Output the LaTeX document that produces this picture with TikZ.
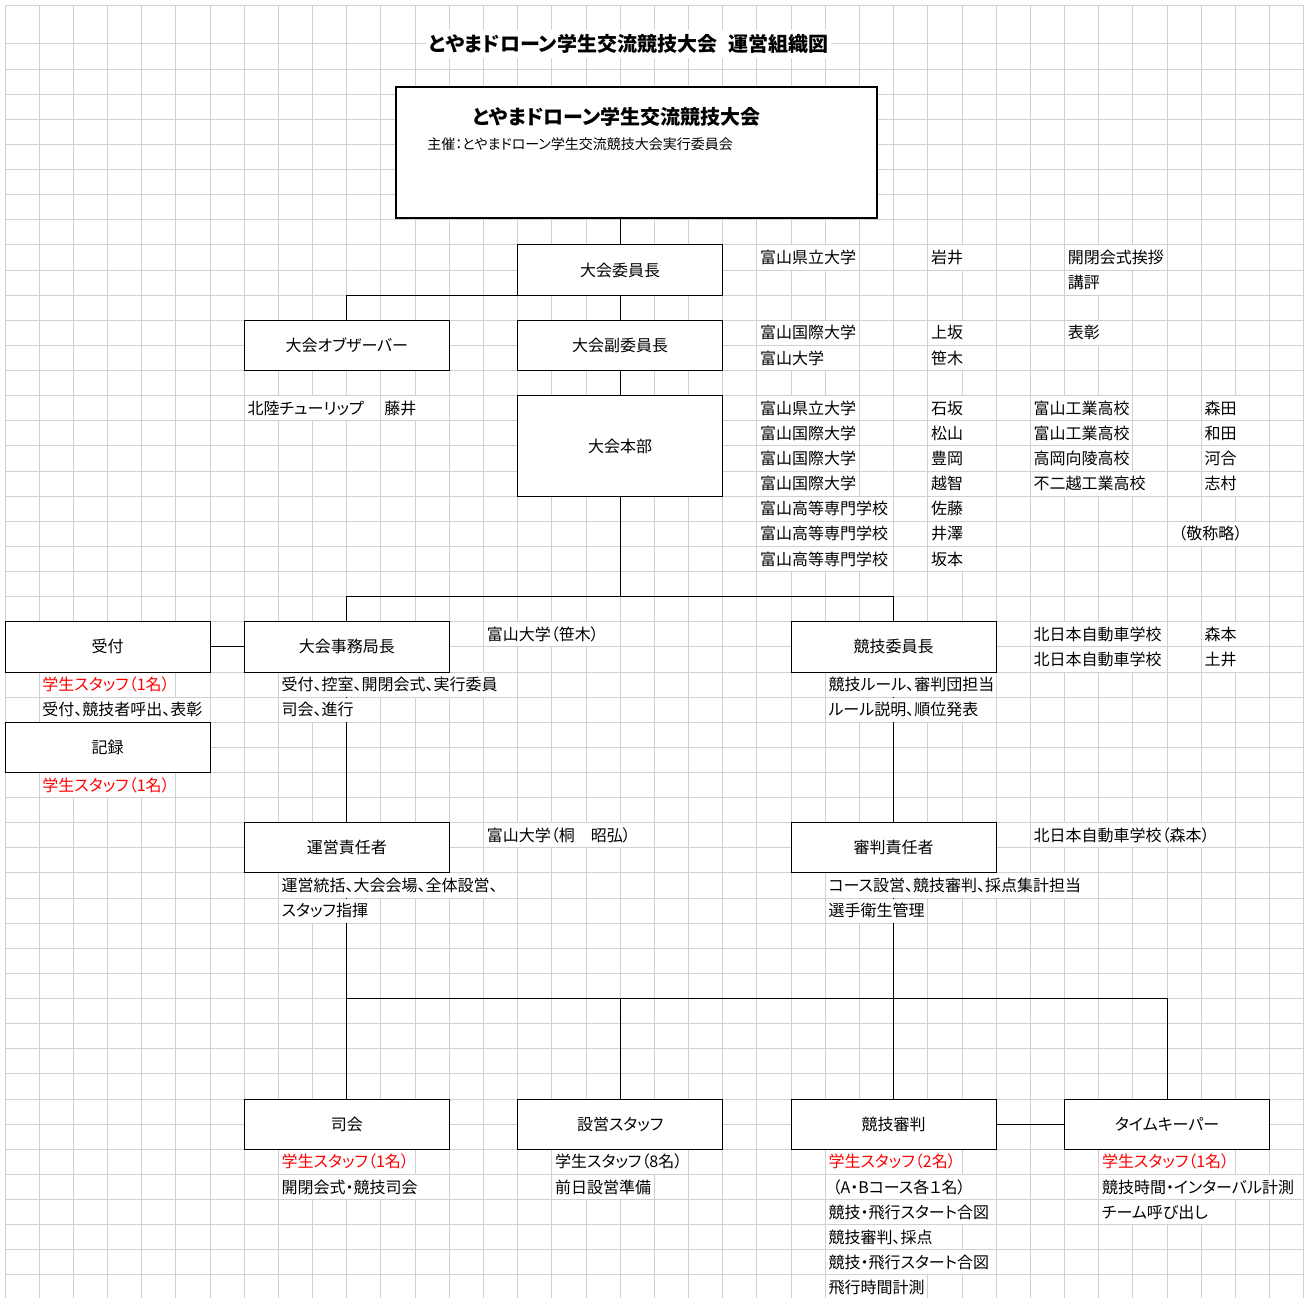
\documentclass[tikz,border=0pt]{standalone}
\usepackage{fontspec}
\setmainfont{Noto Sans CJK JP}[RawFeature=+palt]
\usetikzlibrary{calc}
\definecolor{gridc}{HTML}{D0D0D0}
\definecolor{redt}{HTML}{FF0000}
\newcommand\cellfont{\fontsize{12pt}{14pt}\selectfont}
\newcommand\titlefont{\fontsize{15pt}{17pt}\selectfont\bfseries}
\newcommand\subfont{\fontsize{10.5pt}{12pt}\selectfont}
\newcounter{cellno}
\pgfdeclarelayer{bg}
\pgfdeclarelayer{connl}
\pgfdeclarelayer{cellbg}
\pgfsetlayers{bg,connl,cellbg,main}
% [colour]{col}{row}{text}
\newcommand\cell[4][black]{%
  \stepcounter{cellno}%
  \node[celltext, text=#1] (cell\arabic{cellno}) at ({cx(#2)+3},{ry(#3)+12.56}) {#4};%
  \begin{pgfonlayer}{cellbg}%
    \path let \p1=(cell\arabic{cellno}.east), \p0=({cx(#2)},0),
      \n1={max(1,ceil((\x1-\x0+0.75pt)/25.635pt))} in
      [fill=white] ({cx(#2)+0.5},{ry(#3)+0.5}) rectangle ({cx(#2+\n1)-0.5},{ry(#3+1)-0.5});%
  \end{pgfonlayer}%
}
% {name}{c1}{r1}{c2}{r2}{text}
\newcommand\obox[6]{%
  \node[orgbox, minimum width={(#4-#2)*25.635pt}, minimum height={(#5-#3)*18.84pt}]
    (#1) at ({(cx(#2)+cx(#4))/2},{(ry(#3)+ry(#5))/2}) {#6};%
}
\begin{document}
\begin{tikzpicture}[x=0.75pt,y=-0.75pt,
  declare function={cx(\x)=5+34.18*\x; ry(\x)=44+25.12*\x;},
  gridline/.style={gridc, line width=0.75pt},
  conn/.style={black, line width=0.75pt},
  orgbox/.style={draw=black, line width=0.75pt, fill=white, inner sep=0pt,
    font=\cellfont, text height=10.56pt, text depth=1.44pt},
  celltext/.style={anchor=west, inner sep=0pt, font=\cellfont,
    text height=10.56pt, text depth=1.44pt}]
\useasboundingbox (0,0) rectangle (1307,1298);
% background grid
\begin{pgfonlayer}{bg}
\fill[white] (0,0) rectangle (1307,1298);
\foreach \i in {0,...,38} \draw[gridline] ({cx(\i)},6) -- ({cx(\i)},1298);
\draw[gridline] (5,6) -- ({cx(38)},6);
\foreach \j in {0,...,49} \draw[gridline] (5,{ry(\j)}) -- ({cx(38)},{ry(\j)});
\end{pgfonlayer}

% title
\node[font=\titlefont, fill=white, inner xsep=2pt, inner ysep=3pt,
  text height=13.2pt, text depth=1.8pt] (title) at (628.5,44)
  {とやまドローン学生交流競技大会\hspace{0.55em}運営組織図};

% top box
\node[draw=black, line width=1.5pt, fill=white, inner sep=0pt,
  minimum width={480.5*0.75pt}, minimum height={130.7*0.75pt}] (main) at (636.25,152.35) {};
\node[font=\titlefont, inner sep=0pt, text height=13.2pt, text depth=1.8pt] (head) at (616.5,117) {とやまドローン学生交流競技大会};
\node[font=\subfont, anchor=west, inner sep=0pt, text height=9.24pt, text depth=1.26pt] (sub) at (427,144) {主催：とやまドローン学生交流競技大会実行委員会};

% boxes
\obox{iin}{15}{8}{21}{10}{大会委員長}
\obox{fuku}{15}{11}{21}{13}{大会副委員長}
\obox{obs}{7}{11}{13}{13}{大会オブザーバー}
\obox{honbu}{15}{14}{21}{18}{大会本部}
\obox{uke}{0}{23}{6}{25}{受付}
\obox{jimu}{7}{23}{13}{25}{大会事務局長}
\obox{kyo}{23}{23}{29}{25}{競技委員長}
\obox{kiroku}{0}{27}{6}{29}{記録}
\obox{unei}{7}{31}{13}{33}{運営責任者}
\obox{shin}{23}{31}{29}{33}{審判責任者}
\obox{shikai}{7}{42}{13}{44}{司会}
\obox{setsu}{15}{42}{21}{44}{設営スタッフ}
\obox{shinsa}{23}{42}{29}{44}{競技審判}
\obox{tk}{31}{42}{37}{44}{タイムキーパー}

\coordinate (b1) at ({cx(18)},{ry(22)});
\coordinate (b2) at ({cx(10)},{ry(38)});

% connectors (below the text cells, which hide parts of them)
\begin{pgfonlayer}{connl}
\draw[conn] (iin.north |- main.south) -- (iin.north);
\draw[conn] (iin.south) -- (fuku.north);
\draw[conn] (iin.south west) -| (obs.north);
\draw[conn] (fuku.south) -- (honbu.north);
\draw[conn] (honbu.south) -- (b1);
\draw[conn] (b1) -| (jimu.north);
\draw[conn] (b1) -| (kyo.north);
\draw[conn] (uke.east) -- (jimu.west);
\draw[conn] (jimu.south) -- (unei.north);
\draw[conn] (kyo.south) -- (shin.north);
\draw[conn] (unei.south) -- (shikai.north);
\draw[conn] (b2) -| (tk.north);
\draw[conn] (setsu.north |- b2) -- (setsu.north);
\draw[conn] (shin.south) -- (shinsa.north);
\draw[conn] (shinsa.east) -- (tk.west);
\end{pgfonlayer}

% text cells
\cell{22}{8}{富山県立大学}
\cell{27}{8}{岩井}
\cell{31}{8}{開閉会式挨拶}
\cell{31}{9}{講評}
\cell{22}{11}{富山国際大学}
\cell{27}{11}{上坂}
\cell{31}{11}{表彰}
\cell{22}{12}{富山大学}
\cell{27}{12}{笹木}
\cell{7}{14}{北陸チューリップ}
\cell{11}{14}{藤井}
\cell{22}{14}{富山県立大学}
\cell{27}{14}{石坂}
\cell{30}{14}{富山工業高校}
\cell{35}{14}{森田}
\cell{22}{15}{富山国際大学}
\cell{27}{15}{松山}
\cell{30}{15}{富山工業高校}
\cell{35}{15}{和田}
\cell{22}{16}{富山国際大学}
\cell{27}{16}{豊岡}
\cell{30}{16}{高岡向陵高校}
\cell{35}{16}{河合}
\cell{22}{17}{富山国際大学}
\cell{27}{17}{越智}
\cell{30}{17}{不二越工業高校}
\cell{35}{17}{志村}
\cell{22}{18}{富山高等専門学校}
\cell{27}{18}{佐藤}
\cell{22}{19}{富山高等専門学校}
\cell{27}{19}{井澤}
\cell{34}{19}{\hspace{0.5em}（敬称略）}
\cell{22}{20}{富山高等専門学校}
\cell{27}{20}{坂本}
\cell{14}{23}{富山大学（笹木）}
\cell{30}{23}{北日本自動車学校}
\cell{35}{23}{森本}
\cell{30}{24}{北日本自動車学校}
\cell{35}{24}{土井}
\cell[redt]{1}{25}{学生スタッフ（1名）}
\cell{8}{25}{受付、控室、開閉会式、実行委員}
\cell{24}{25}{競技ルール、審判団担当}
\cell{1}{26}{受付、競技者呼出、表彰}
\cell{8}{26}{司会、進行}
\cell{24}{26}{ルール説明、順位発表}
\cell[redt]{1}{29}{学生スタッフ（1名）}
\cell{14}{31}{富山大学（桐　昭弘）}
\cell{30}{31}{北日本自動車学校（森本）}
\cell{8}{33}{運営統括、大会会場、全体設営、}
\cell{24}{33}{コース設営、競技審判、採点集計担当}
\cell{8}{34}{スタッフ指揮}
\cell{24}{34}{選手衛生管理}
\cell[redt]{8}{44}{学生スタッフ（1名）}
\cell{16}{44}{学生スタッフ（8名）}
\cell[redt]{24}{44}{学生スタッフ（2名）}
\cell[redt]{32}{44}{学生スタッフ（1名）}
\cell{8}{45}{開閉会式・競技司会}
\cell{16}{45}{前日設営準備}
\cell{24}{45}{\hspace{0.25em}（A・Bコース各１名）}
\cell{32}{45}{競技時間・インターバル計測}
\cell{24}{46}{競技・飛行スタート合図}
\cell{32}{46}{チーム呼び出し}
\cell{24}{47}{競技審判、採点}
\cell{24}{48}{競技・飛行スタート合図}
\cell{24}{49}{飛行時間計測}
\end{tikzpicture}
\end{document}
